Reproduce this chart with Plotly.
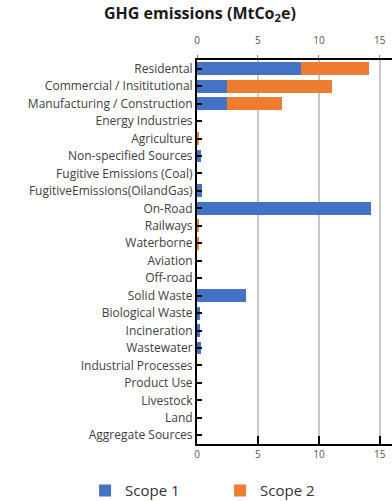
import plotly.graph_objects as go

# Emission sources, top to bottom
categories = [
    "Residental", "Commercial / Insititutional", "Manufacturing / Construction",
    "Energy Industries", "Agriculture", "Non-specified Sources",
    "Fugitive Emissions (Coal)", "FugitiveEmissions(OilandGas)", "On-Road",
    "Railways", "Waterborne", "Aviation", "Off-road", "Solid Waste",
    "Biological Waste", "Incineration", "Wastewater", "Industrial Processes",
    "Product Use", "Livestock", "Land", "Aggregate Sources",
]

scope1 = [8.5, 2.5, 2.5, 0, 0, 0.3, 0, 0.4, 14.3, 0, 0, 0, 0, 4.0,
          0.25, 0.25, 0.35, 0, 0, 0, 0, 0]
scope2 = [5.6, 8.6, 4.5, 0, 0.2, 0, 0, 0, 0, 0.2, 0.2, 0, 0, 0,
          0, 0, 0, 0, 0, 0, 0, 0]

x_ticks = [0, 5, 10, 15]

BLUE = "#4472C4"
ORANGE = "#ED7D31"
FONT = "Open Sans"

fig = go.Figure()
fig.add_trace(go.Bar(name="Scope 1", x=scope1, y=categories, orientation="h",
                     marker=dict(color=BLUE, line=dict(width=0))))
fig.add_trace(go.Bar(name="Scope 2", x=scope2, y=categories, orientation="h",
                     marker=dict(color=ORANGE, line=dict(width=0))))
# invisible companion trace so the top axis gets drawn
fig.add_trace(go.Scatter(x=scope1, y=categories, xaxis="x2", mode="markers",
                         marker=dict(opacity=0), hoverinfo="skip", showlegend=False))

n = len(categories)
fig.update_layout(
    width=392, height=501,
    margin=dict(l=197, r=0, t=60, b=57, autoexpand=False),
    paper_bgcolor="white", plot_bgcolor="white",
    barmode="stack", bargap=0.26,
    font=dict(family=FONT, color="#404040"),
    title=dict(text="<b>GHG emissions (MtCo<sub>2</sub>e)</b>", x=0.51, xref="container",
               xanchor="center", y=0.985, yanchor="top",
               font=dict(size=16, color="#1a1a1a", family=FONT)),
    xaxis=dict(range=[0, 16], tickvals=x_ticks, showgrid=True, gridcolor="#c8c8c8",
               gridwidth=1.5, zeroline=False, showline=True, linecolor="black",
               linewidth=2, ticks="inside", ticklen=8, tickwidth=2, tickcolor="black",
               tickfont=dict(size=10, color="#555555")),
    xaxis2=dict(range=[0, 16], tickvals=x_ticks, overlaying="x", side="top",
                matches="x", showgrid=False, zeroline=False, showline=True,
                linecolor="black", linewidth=2, ticks="outside", ticklen=3,
                tickwidth=1, tickcolor="#888888", ticklabelstandoff=7,
                tickfont=dict(size=10, color="#555555")),
    yaxis=dict(categoryorder="array", categoryarray=categories,
               range=[n - 0.5, -0.5], showgrid=False, zeroline=False,
               showline=True, linecolor="black", linewidth=2,
               ticks="inside", ticklen=5, tickwidth=2, tickcolor="black",
               tickfont=dict(size=12, color="#404040")),
    legend=dict(orientation="h", x=-0.574, xanchor="left", xref="paper",
                y=-0.122, yanchor="middle", yref="paper",
                font=dict(size=15, color="#333333"), entrywidth=90,
                tracegroupgap=0, traceorder="normal"),
    showlegend=True,
)

fig.write_html("out.html")
